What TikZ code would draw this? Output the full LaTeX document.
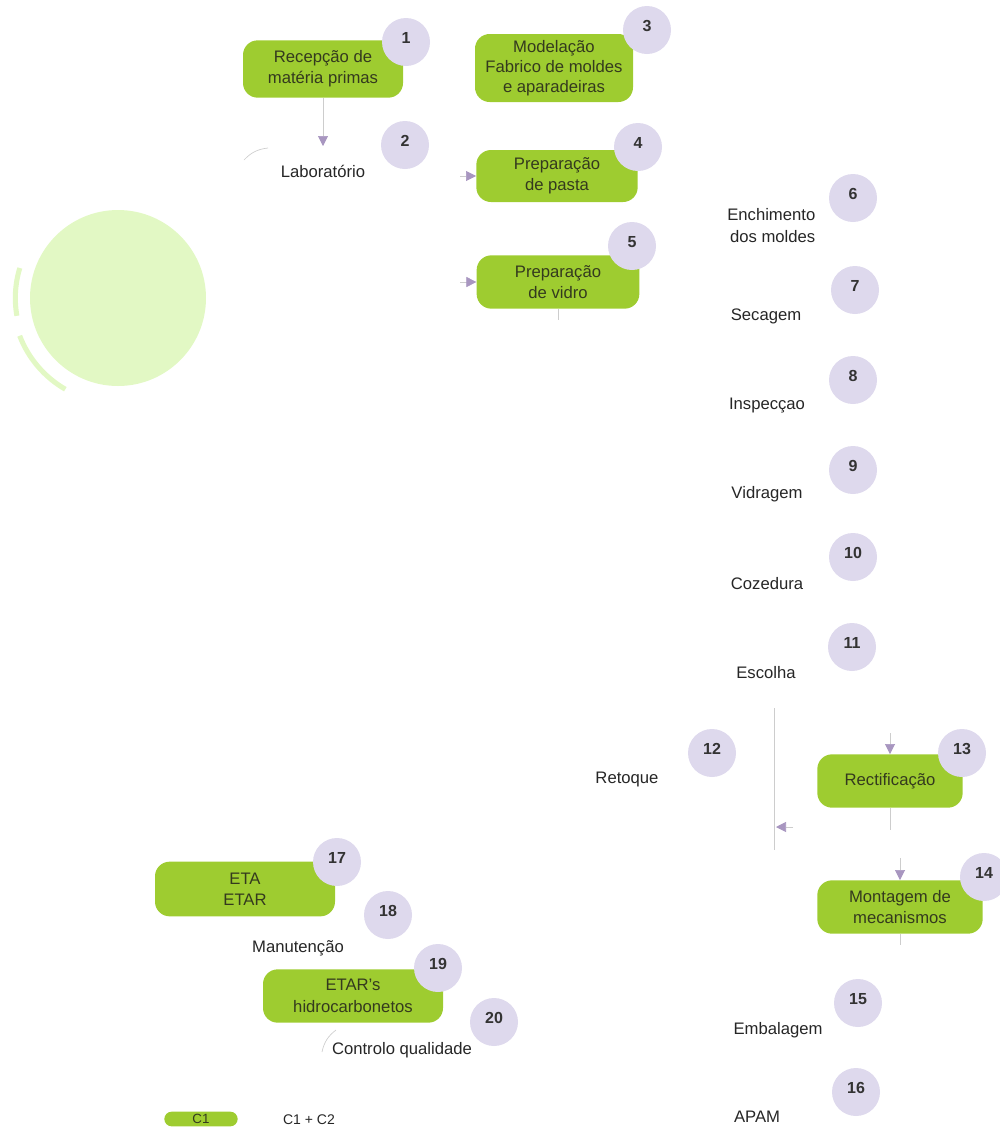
\documentclass[tikz,border=0pt]{standalone}
\usepackage{fontspec}
\setmainfont{Liberation Sans}
\usetikzlibrary{arrows.meta}
\definecolor{boxgreen}{RGB}{158,204,48}
\definecolor{numlav}{RGB}{222,217,237}
\definecolor{arrlav}{RGB}{168,150,192}
\definecolor{boxtext}{RGB}{52,58,30}
\definecolor{paleg}{RGB}{226,248,196}
\definecolor{faint}{RGB}{205,205,205}
\tikzset{
  procbox/.style={fill=boxgreen, rounded corners=11pt, align=center, text=boxtext,
    font=\fontsize{12.5}{16}\selectfont, inner sep=0pt},
  numc/.style={circle, fill=numlav, minimum size=36pt, inner sep=0pt},
  numt/.style={font=\fontsize{12}{14}\selectfont\bfseries, text=black!80},
  lbl/.style={font=\fontsize{12.5}{16.5}\selectfont, text=black!85, align=center},
  conn/.style={draw=faint, line width=0.6pt},
  tri/.style={-{Triangle[length=7.5pt,width=7.5pt,color=arrlav,fill=arrlav]}, draw=faint, line width=0.5pt},
}
\begin{document}
\begin{tikzpicture}[x=0.75pt,y=-0.75pt]
\useasboundingbox (0,0) rectangle (1000,1129);
% decorative pale circle
\fill[paleg] (118,298) circle[radius=66pt];
\draw[paleg, line width=3.8pt] (118,298) ++(163:77pt) arc[start angle=163, end angle=190, radius=77pt];
\draw[paleg, line width=3.8pt] (118,298) ++(201:79pt) arc[start angle=201, end angle=240, radius=79pt];

% boxes
\node[procbox, minimum width=120pt, minimum height=43pt] (b1) at (323,69) {Recepção de\\matéria primas};
\node[procbox, minimum width=118.5pt, minimum height=51pt, font=\fontsize{12.5}{15}\selectfont] (b3) at (554,68) {Modelação\\Fabrico de moldes\\e aparadeiras};
\node[procbox, minimum width=121pt, minimum height=39pt] (b4) at (557,176) {Preparação\\de pasta};
\node[procbox, minimum width=122pt, minimum height=40pt] (b5) at (558,282) {Preparação\\de vidro};
\node[procbox, minimum width=109pt, minimum height=40pt] (b13) at (890,781) {Rectificação};
\node[procbox, minimum width=124pt, minimum height=40pt] (b14) at (900,907) {Montagem de\\mecanismos};
\node[procbox, minimum width=135pt, minimum height=41pt] (b17) at (245,889) {ETA\\ETAR};
\node[procbox, minimum width=135pt, minimum height=40pt] (b19) at (353,996) {ETAR's\\hidrocarbonetos};
\node[procbox, minimum width=55pt, minimum height=11pt, rounded corners=5.5pt, font=\fontsize{10}{10}\selectfont] (c1) at (201,1119) {C1};

% labels
\node[lbl] (l2) at (323,171) {Laboratório};
\node[lbl, align=right, anchor=east] (l6) at (820,226) {Enchimento\\dos moldes};
\node[lbl] (l7) at (766,316) {Secagem};
\node[lbl] (l8) at (767,406) {Inspecçao};
\node[lbl] (l9) at (767,494) {Vidragem};
\node[lbl] (l10) at (767,584) {Cozedura};
\node[lbl] (l11) at (766,673) {Escolha};
\node[lbl] (l12) at (627,779) {Retoque};
\node[lbl] (l15) at (778,1030) {Embalagem};
\node[lbl] (l16) at (757,1117) {APAM};
\node[lbl] (l18) at (298,948) {Manutenção};
\node[lbl] (l20) at (402,1050) {Controlo qualidade};
\node[lbl, font=\fontsize{10.5}{11}\selectfont] (leg) at (309,1120) {C1 + C2};

% connectors
\coordinate (a2) at (323,146);
\draw[tri] (b1.south) -- (a2);
\coordinate (s4) at (460,176);
\draw[tri] (s4) -- (b4.west);
\coordinate (s5) at (460,282);
\draw[tri] (s5) -- (b5.west);
\coordinate (e5) at (558,320);
\draw[conn] (b5.south) -- (e5);
\coordinate (s13) at (890,733);
\draw[tri] (s13) -- (b13.north);
\coordinate (s14) at (900,858);
\draw[tri] (s14) -- (b14.north);
\coordinate (e13) at (890,830);
\draw[conn] (b13.south) -- (e13);
\coordinate (e14) at (900,945);
\draw[conn] (b14.south) -- (e14);
\coordinate (vt) at (774,708);
\coordinate (vb) at (774,850);
\draw[conn] (vt) -- (vb);
\coordinate (ra) at (793,827);
\coordinate (rb) at (776,827);
\draw[tri] (ra) -- (rb);
% faint arcs
\coordinate (fa1) at (244,160);
\coordinate (fa2) at (268,148);
\draw[faint, line width=0.5pt] (fa1) to[bend left=20] (fa2);
\coordinate (fb1) at (322,1052);
\coordinate (fb2) at (336,1030);
\draw[faint, line width=0.5pt] (fb1) to[bend left=20] (fb2);

% number circles
\foreach \n/\x/\y in {1/406/42, 2/405/145, 3/647/30, 4/638/147, 5/632/246, 6/853/198, 7/855/290, 8/853/380, 9/853/470, 10/853/557, 11/852/647, 12/712/753, 13/962/753, 14/984/877, 15/858/1003, 16/856/1092, 17/337/862, 18/388/915, 19/438/968, 20/494/1022}{
  \node[numc] (n\n) at (\x,\y) {};
  \node[numt] (t\n) at (\x,\y-4) {\n};
}
\end{tikzpicture}
\end{document}
